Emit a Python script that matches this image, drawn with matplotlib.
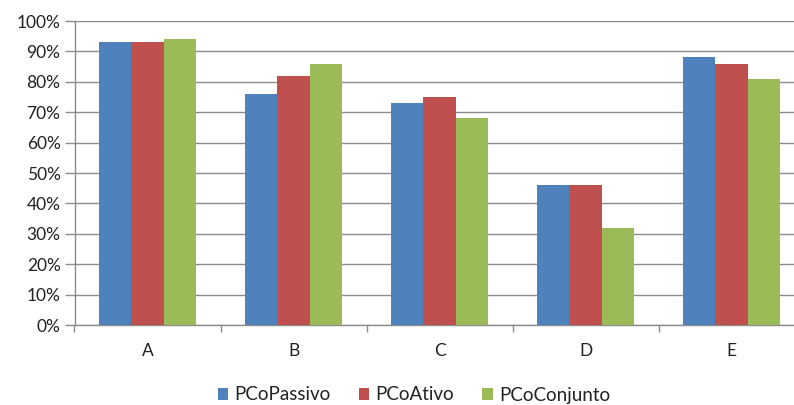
import matplotlib
matplotlib.use("Agg")
import matplotlib.pyplot as plt
from matplotlib.ticker import PercentFormatter
import numpy as np

plt.rcParams['font.family'] = ['Lato', 'DejaVu Sans']

categorias = ["A", "B", "C", "D", "E"]
pco_passivo = [93, 76, 73, 46, 88]
pco_ativo = [93, 82, 75, 46, 86]
pco_conjunto = [94, 86, 68, 32, 81]

series = ["PCoPassivo", "PCoAtivo", "PCoConjunto"]
cores = ["#4f81bd", "#c0504d", "#9bbb59"]

W, H = 794, 405
fig = plt.figure(figsize=(W / 100, H / 100), dpi=100)
# plot area runs a bit past the right edge of the picture
ax = fig.add_axes([74.5 / W, 1 - 325 / H, 730 / W, 304 / H])

x = np.arange(len(categorias))
larg = 0.221
for i, (nome, vals) in enumerate(zip(series, [pco_passivo, pco_ativo, pco_conjunto])):
    ax.bar(x + (i - 1) * larg, vals, width=larg, color=cores[i], label=nome, zorder=3)

ax.set_xlim(-0.5, len(categorias) - 0.5)
ax.set_ylim(0, 100)
ax.set_yticks(np.arange(0, 101, 10))
ax.yaxis.set_major_formatter(PercentFormatter(decimals=0))
ax.grid(axis="y", color="#8c8c8c", linewidth=1.0, zorder=0)

ax.set_xticks(x)
ax.set_xticklabels(categorias)
ax.set_xticks(np.arange(-0.5, len(categorias), 1), minor=True)
ax.tick_params(axis="x", which="major", length=0, pad=13)
ax.tick_params(axis="x", which="minor", length=5, color="#8c8c8c", width=1)
ax.tick_params(axis="y", length=7, color="#8c8c8c", width=1, pad=3)
ax.tick_params(labelsize=12.5, labelcolor="#222222")

for lado in ["top", "right"]:
    ax.spines[lado].set_visible(False)
for lado in ["left", "bottom"]:
    ax.spines[lado].set_color("#8c8c8c")
    ax.spines[lado].set_linewidth(1.0)

fig.legend(loc="center", bbox_to_anchor=(414 / W, 1 - 395 / H), ncol=3, frameon=False,
           fontsize=13.5, handlelength=0.55, handleheight=0.55, handletextpad=0.35,
           columnspacing=1.5, labelcolor="#222222")

fig.savefig("out.png", dpi=100)
